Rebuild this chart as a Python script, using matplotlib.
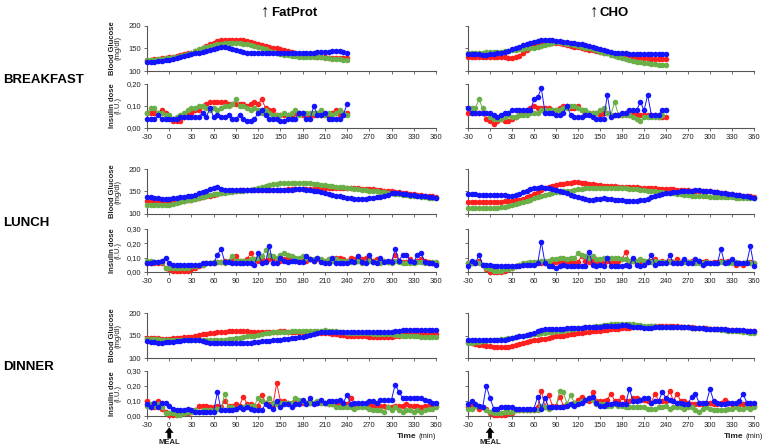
import matplotlib.pyplot as plt

plt.rcParams['font.family'] = ['Liberation Sans', 'DejaVu Sans']

# sampling times (min), one reading every 5 min
t_breakfast = list(range(-30, 245, 5))
t_day = list(range(-30, 365, 5))

# ---------------- BREAKFAST ----------------
# glucose in mg/dl, insulin in 0.01 I.U.
bf_fp_glu_red = [125,125,126,127,128,129,130,131,133,135, 137,139,141,144,147,151,155,159,163,166,
                 168,168,168,169,169,168,168,167,165,163, 160,158,156,154,152,150,148,146,144,142,
                 140,138,136,135,134,133,132,131,130,129, 129,128,128,128,128]
bf_fp_glu_green = [125,125,125,126,127,128,129,130,132,134, 136,138,141,144,148,151,154,156,158,160,
                   161,162,162,162,162,162,161,160,158,156, 154,151,148,145,142,140,138,136,135,134,
                   133,132,131,131,130,130,130,130,129,128, 127,126,126,125,125]
bf_fp_glu_blue = [120,120,121,122,123,124,125,127,129,131, 133,135,137,139,141,143,145,147,149,151,
                  153,154,152,149,146,144,142,140,140,140, 140,140,139,139,139,139,139,139,139,140,
                  140,140,140,141,141,141,142,142,143,143, 144,145,144,142,140]
bf_fp_ins_red = [7,7,7,7,8,7,5,3,3,3, 5,6,7,8,8,10,11,12,12,12, 12,12,11,11,11,11,11,10,11,12,
                 11,13,9,8,8,6,6,6,6,6, 7,7,6,6,6,6,7,6,6,6, 7,8,6,6,7]
bf_fp_ins_green = [7,9,9,7,7,6,6,4,5,6, 7,8,9,9,10,10,9,8,9,8, 9,10,10,11,13,10,10,9,8,9,
                   8,7,8,7,6,6,6,7,6,7, 8,6,7,7,7,7,7,8,6,7, 6,7,8,7,6]
bf_fp_ins_blue = [4,4,4,6,4,4,4,4,4,5, 5,5,5,5,5,7,5,9,5,6, 5,5,6,4,4,6,4,3,3,4,
                  7,8,6,4,4,4,3,3,4,4, 4,7,7,4,4,10,6,6,7,4, 4,4,4,6,11]

bf_cho_glu_red = [131,131,132,132,132,132,132,132,131,131, 130,129,129,130,134,140,147,153,157,160,
                  162,163,163,163,163,162,160,158,156,154, 153,151,149,147,146,144,143,141,139,138,
                  136,135,134,133,132,131,130,129,128,128, 127,127,127,127,127]
bf_cho_glu_green = [140,140,141,141,141,142,142,142,143,143, 144,145,146,147,148,149,150,151,152,154,
                    156,158,161,163,164,164,163,161,159,157, 155,153,152,150,148,146,143,141,139,136,
                    134,131,128,126,124,122,120,119,118,117, 116,115,114,113,113]
bf_cho_glu_blue = [138,138,137,137,136,136,137,138,139,140, 142,145,148,151,154,157,160,163,165,167,
                   168,169,169,168,167,166,165,164,163,162, 160,159,157,155,153,150,148,146,144,142,
                   141,140,139,139,138,138,138,137,137,137, 137,137,137,137,137]
bf_cho_ins_red = [7,7,7,7,7,4,3,2,3,4, 3,3,4,5,6,7,8,9,10,9, 9,9,9,8,8,9,10,10,9,9,
                  10,8,7,7,7,7,6,7,7,6, 6,6,6,7,6,7,6,6,6,6, 6,6,5,5,5]
bf_cho_ins_green = [9,9,9,13,9,7,5,4,4,4, 5,6,5,5,6,6,6,7,7,7, 8,8,8,8,8,8,9,9,10,10,
                    9,8,8,7,7,7,8,9,7,6, 12,6,6,6,6,5,4,3,5,5, 5,5,5,6,8]
bf_cho_ins_blue = [9,7,7,7,7,7,7,6,5,6, 7,7,8,8,8,8,8,8,13,14, 18,7,7,7,6,6,7,10,6,5,
                   5,5,6,6,5,4,4,4,15,5, 6,6,7,7,8,8,8,12,8,15, 6,6,6,8,8]

# ---------------- LUNCH ----------------
lu_fp_glu_red = [129,129,128,128,128,128,128,128,128,128, 129,130,131,133,135,137,139,141,143,145,
                 147,149,150,151,152,153,153,153,153,153, 153,153,153,154,154,154,154,154,155,155,
                 155,155,155,156,156,156,156,157,157,157, 157,157,158,158,158,158,157,157,156,156,
                 155,155,154,153,152,151,150,149,148,147, 146,145,144,143,142,141,140,139,138]
lu_fp_glu_green = [119,119,119,119,120,120,121,122,124,126, 128,130,132,134,136,138,140,142,144,145,
                   146,147,148,149,150,151,152,153,154,155, 157,160,162,164,166,167,168,168,169,169,
                   169,169,169,169,168,167,166,165,164,163, 162,161,160,159,158,157,156,155,154,153,
                   152,151,150,149,148,147,146,145,144,143, 142,141,140,139,138,137,136,135,135]
lu_fp_glu_blue = [137,137,136,135,134,134,134,135,136,137, 138,139,140,143,146,149,152,155,158,160,
                  156,154,154,154,154,154,154,153,153,154, 154,154,154,153,153,153,153,153,154,154,
                  155,155,155,154,153,152,150,149,147,145, 143,141,139,137,136,135,134,134,134,134,
                  135,136,137,138,140,143,146,146,146,145, 144,143,142,141,140,139,138,137,136]
lu_fp_ins_red = [6,6,6,6,6,3,2,1,1,1, 1,1,2,3,4,5,6,6,6,7, 7,8,8,8,11,8,8,9,13,9,
                 8,9,8,9,10,9,8,9,10,9, 8,9,9,8,9,8,9,8,8,9, 9,10,10,9,8,10,9,8,9,10,
                 9,8,9,8,8,7,8,12,8,7, 7,9,7,8,9,8,7,6,6]
lu_fp_ins_green = [8,8,7,7,7,3,3,3,3,3, 3,3,4,4,5,5,6,6,7,7, 7,6,8,11,8,8,8,8,9,9,
                   10,11,15,12,11,10,12,13,12,11, 10,10,11,10,9,9,10,9,8,9, 8,9,8,8,8,7,7,8,6,7,
                   8,7,7,6,8,7,6,8,7,6, 6,6,6,7,7,6,6,7,7]
lu_fp_ins_blue = [6,6,7,7,8,10,6,5,5,5, 5,5,5,5,5,6,6,6,6,12, 16,7,7,6,6,6,6,6,6,5,
                  13,6,7,18,6,6,10,8,7,8, 8,7,7,11,9,8,10,7,6,6, 10,6,6,6,6,8,7,11,7,6,
                  12,7,6,10,7,8,7,16,8,12, 12,8,7,12,13,7,6,6,5]

lu_cho_glu_red = [126,126,126,126,126,126,126,126,127,127, 128,128,129,130,132,134,137,141,145,149,
                  153,157,160,162,164,166,167,168,169,170, 170,169,168,167,166,165,164,163,163,162,
                  162,161,161,160,160,159,159,158,158,158, 157,157,156,156,155,155,155,154,154,153,
                  153,152,152,151,151,150,150,149,148,147, 146,145,144,143,142,141,140,139,138]
lu_cho_glu_green = [113,113,113,113,113,113,114,114,114,115, 116,118,120,122,124,126,129,132,135,138,
                    141,143,145,147,148,149,150,151,152,154, 155,156,157,157,158,158,158,158,158,158,
                    158,158,158,157,156,156,155,154,153,152, 151,150,149,148,147,146,146,145,144,143,
                    142,141,140,140,139,139,138,138,138,137, 137,137,137,136,136,136,135,135,135]
lu_cho_glu_blue = [144,144,144,143,143,143,143,142,142,142, 142,141,141,142,145,149,152,155,157,158,
                   159,158,157,155,153,151,149,146,143,140, 137,135,133,132,132,133,134,135,134,133,
                   132,131,130,129,129,129,129,130,131,134, 138,141,143,145,146,147,148,149,150,151,
                   152,152,153,153,152,151,150,149,148,147, 146,145,144,143,142,140,139,137,136]
lu_cho_ins_red = [6,6,6,8,5,2,0,0,0,0, 1,2,3,4,5,5,6,6,6,7, 6,7,7,7,7,8,8,7,7,6,
                  7,11,8,7,8,7,8,6,8,7, 7,8,9,14,7,8,7,8,8,7, 8,9,7,8,7,8,7,9,7,8,
                  7,8,7,8,7,8,6,7,7,8, 7,8,8,5,6,5,7,7,6]
lu_cho_ins_green = [6,6,7,6,5,3,2,1,1,1, 2,2,3,4,5,6,6,7,7,7, 8,8,8,9,9,10,10,9,10,10,
                    13,12,11,10,11,9,9,10,10,10, 10,10,9,9,8,8,8,9,8,8, 7,8,7,7,7,7,7,6,7,7,
                    7,7,6,6,6,7,6,6,6,7, 7,6,6,7,6,6,7,6,6]
lu_cho_ins_blue = [4,8,6,12,5,5,5,4,4,4, 4,4,4,4,4,5,5,5,5,6, 21,6,4,4,3,4,5,4,4,4,
                   4,4,4,14,5,4,5,4,10,4, 4,4,4,5,4,10,5,4,5,7, 12,5,6,6,6,12,6,6,6,9,
                   6,6,9,8,5,6,6,6,6,16, 6,7,9,6,6,6,6,18,4]

# ---------------- DINNER ----------------
di_fp_glu_red = [145,145,144,144,143,143,143,144,145,145, 146,146,147,149,151,153,154,155,156,157,
                 158,158,159,160,160,160,159,159,158,158, 158,158,158,158,158,158,159,159,158,158,
                 158,158,157,157,157,157,156,156,155,155, 154,153,152,151,150,150,149,149,148,148,
                 147,147,146,146,146,146,146,148,150,152, 153,153,153,153,153,153,153,153,153]
di_fp_glu_green = [143,143,142,142,141,141,140,140,140,140, 140,140,140,140,140,140,140,140,140,140,
                   140,141,142,143,144,145,146,148,149,150, 151,153,155,156,157,158,158,158,158,159,
                   159,159,159,159,160,160,161,161,162,161, 160,159,158,157,156,156,155,155,155,155,
                   155,154,154,153,153,153,153,152,151,150, 150,149,148,148,147,147,146,146,146]
di_fp_glu_blue = [137,136,135,134,134,135,135,136,137,138, 139,140,141,140,139,138,136,134,133,133,
                  133,133,133,133,133,133,133,133,134,135, 136,137,137,138,139,140,141,142,143,144,
                  145,146,147,149,151,153,155,157,158,158, 158,158,158,158,158,158,158,158,158,158,
                  158,158,158,157,157,157,157,159,161,163, 163,163,163,163,163,163,163,163,162]
di_fp_ins_red = [10,6,6,10,5,3,1,1,1,2, 2,2,3,4,7,7,7,6,6,7, 6,10,7,7,8,7,13,8,8,7,
                 7,14,9,8,7,22,10,10,9,9, 10,9,9,9,9,9,9,9,9,8, 8,8,8,8,8,12,8,8,8,8,
                 8,7,7,7,7,6,6,7,7,7, 8,7,7,7,6,7,7,6,7]
di_fp_ins_green = [7,8,7,8,6,2,2,2,1,1, 2,3,3,4,3,4,4,4,4,5, 5,15,6,6,5,6,6,7,7,7,
                   12,10,9,12,9,8,9,9,9,9, 12,11,10,9,9,9,10,9,9,8, 8,6,6,6,6,6,5,6,6,6,
                   5,4,4,4,3,6,4,6,4,3, 4,4,3,4,3,4,5,5,6]
di_fp_ins_blue = [8,6,9,6,9,9,7,5,4,4, 4,5,4,3,3,3,3,3,3,16, 4,4,4,4,5,6,5,6,5,4,
                  4,4,8,7,5,10,6,8,8,6, 8,8,11,8,12,8,9,11,9,10, 10,10,11,9,14,8,9,9,9,9,
                  10,10,9,11,11,11,11,21,16,12, 12,12,12,12,12,11,10,9,9]

di_cho_glu_red = [136,134,132,130,128,127,126,125,124,124, 124,125,126,128,131,133,135,137,139,140,
                  142,143,145,146,148,149,150,152,153,154, 155,156,157,158,159,160,161,162,163,164,
                  165,165,166,167,167,168,168,169,170,170, 171,171,172,172,172,172,171,171,170,169,
                  168,168,167,167,166,166,165,165,164,164, 163,163,162,162,161,161,160,160,159]
di_cho_glu_green = [133,134,135,136,137,138,139,140,141,142, 143,144,145,146,148,150,151,152,153,154,
                    155,156,157,158,159,160,161,163,164,165, 166,167,168,169,170,171,172,173,174,175,
                    175,176,176,176,176,175,174,173,172,172, 171,171,170,170,170,169,169,169,168,168,
                    168,167,167,166,166,165,165,164,164,163, 162,161,160,160,159,158,157,156,156]
di_cho_glu_blue = [139,139,139,139,139,139,139,139,140,140, 141,142,144,146,148,150,152,154,156,160,
                   163,165,164,164,164,165,165,166,166,166, 167,167,168,168,169,170,170,171,171,172,
                   172,172,173,173,171,170,169,168,167,167, 167,168,169,170,170,170,169,169,168,168,
                   168,167,167,166,166,165,165,165,164,164, 164,163,163,163,162,162,161,161,161]
di_cho_ins_red = [6,8,7,5,6,5,2,1,1,1, 1,2,2,4,4,4,4,4,4,6, 17,6,14,7,7,13,7,8,8,9,
                  11,13,11,10,16,10,10,10,11,15, 10,10,13,10,10,12,12,11,11,10, 9,15,10,10,10,17,10,15,10,10,
                  9,8,8,8,8,9,9,8,8,9, 11,9,8,8,8,8,8,7,7]
di_cho_ins_green = [5,5,7,7,6,4,3,2,2,2, 3,3,3,4,4,4,4,4,4,4, 7,6,5,6,6,17,16,8,14,9,
                    9,10,11,12,11,8,8,8,7,7, 8,7,7,6,6,6,6,6,6,5, 5,5,6,6,7,5,6,6,6,5,
                    6,6,4,3,5,6,5,4,4,4, 4,5,5,6,5,5,6,5,6]
di_cho_ins_blue = [8,10,8,7,6,20,12,5,5,6, 6,6,6,5,5,5,5,5,5,13, 5,12,6,6,6,6,6,7,8,7,
                   8,9,11,12,13,9,7,7,8,8, 9,8,8,8,18,10,10,11,12,12, 9,10,10,16,12,11,10,9,9,8,
                   8,13,15,9,9,9,18,10,9,8, 8,9,9,9,10,15,9,9,9]

meals = ['BREAKFAST', 'LUNCH', 'DINNER']
diets = ['FatProt', 'CHO']
x_ticks = list(range(-30, 361, 30))
glu_ticks = [100, 150, 200]
ins_ticks_bf = [0, 0.1, 0.2]
ins_labels_bf = ['0,00', '0,10', '0,20']
ins_ticks = [0, 0.1, 0.2, 0.3]
ins_labels = ['0,00', '0,10', '0,20', '0,30']

colors = ['#FF1F1F', '#6AAF48', '#1414FF']

# (meal row, diet col, time, glucose series, insulin series)
panels = [
    (0, 0, t_breakfast, [bf_fp_glu_red, bf_fp_glu_green, bf_fp_glu_blue], [bf_fp_ins_red, bf_fp_ins_green, bf_fp_ins_blue]),
    (0, 1, t_breakfast, [bf_cho_glu_red, bf_cho_glu_green, bf_cho_glu_blue], [bf_cho_ins_red, bf_cho_ins_green, bf_cho_ins_blue]),
    (1, 0, t_day, [lu_fp_glu_red, lu_fp_glu_green, lu_fp_glu_blue], [lu_fp_ins_red, lu_fp_ins_green, lu_fp_ins_blue]),
    (1, 1, t_day, [lu_cho_glu_red, lu_cho_glu_green, lu_cho_glu_blue], [lu_cho_ins_red, lu_cho_ins_green, lu_cho_ins_blue]),
    (2, 0, t_day, [di_fp_glu_red, di_fp_glu_green, di_fp_glu_blue], [di_fp_ins_red, di_fp_ins_green, di_fp_ins_blue]),
    (2, 1, t_day, [di_cho_glu_red, di_cho_glu_green, di_cho_glu_blue], [di_cho_ins_red, di_cho_ins_green, di_cho_ins_blue]),
]

W, H = 764, 448
fig = plt.figure(figsize=(W / 100, H / 100), dpi=100)

col_x = [(147, 289), (468, 286)]
glu_rows = [(26, 71), (169, 214), (313, 358)]
ins_rows = [(84, 128), (229, 272), (371, 416)]
txt_col = '#222222'


def make_ax(col, top, bot):
    x0, w = col_x[col]
    ax = fig.add_axes([x0 / W, 1 - bot / H, w / W, (bot - top) / H])
    for s in ['top', 'right']:
        ax.spines[s].set_visible(False)
    for s in ['left', 'bottom']:
        ax.spines[s].set_color('#555555')
        ax.spines[s].set_linewidth(0.8)
    ax.tick_params(length=2.5, width=0.6, color='#555555', labelsize=5.5,
                   labelcolor=txt_col, pad=1.5)
    ax.set_xlim(-30, 360)
    ax.set_xticks(x_ticks)
    return ax


def draw_series(ax, t, series, scale=1.0):
    for vals, c in zip(series, colors):
        if len(vals) != len(t):
            raise ValueError('length mismatch %d vs %d' % (len(vals), len(t)))
        ax.plot(t, [v * scale for v in vals], '-o', color=c, lw=0.7, ms=4.0,
                mew=0, clip_on=False, zorder=3)


for row, col, t, glu, ins in panels:
    # glucose
    axg = make_ax(col, *glu_rows[row])
    draw_series(axg, t, glu)
    axg.set_ylim(100, 200)
    axg.set_yticks(glu_ticks)
    axg.set_xticklabels([])
    if col == 0:
        axg.set_yticklabels([str(v) for v in glu_ticks])
        axg.text(-0.121, 0.5, 'Blood Glucose', transform=axg.transAxes, rotation=90,
                 ha='center', va='center', fontsize=5.5, weight='bold', color=txt_col)
        axg.text(-0.100, 0.5, '(mg/dl)', transform=axg.transAxes, rotation=90,
                 ha='center', va='center', fontsize=5.5, color=txt_col)
    else:
        axg.set_yticklabels([])

    # insulin
    axi = make_ax(col, *ins_rows[row])
    draw_series(axi, t, ins, scale=0.01)
    if row == 0:
        axi.set_ylim(0, 0.2)
        axi.set_yticks(ins_ticks_bf)
        labels = ins_labels_bf
    else:
        axi.set_ylim(0, 0.3)
        axi.set_yticks(ins_ticks)
        labels = ins_labels
    axi.set_xticklabels([str(v) for v in x_ticks])
    if col == 0:
        axi.set_yticklabels(labels)
        axi.text(-0.121, 0.5, 'Insulin dose', transform=axi.transAxes, rotation=90,
                 ha='center', va='center', fontsize=5.5, weight='bold', color=txt_col)
        axi.text(-0.100, 0.5, '(I.U.)', transform=axi.transAxes, rotation=90,
                 ha='center', va='center', fontsize=5.5, color=txt_col)
    else:
        axi.set_yticklabels([])

    if row == 2:
        tr = axi.get_xaxis_transform()
        axi.annotate('', xy=(0, -0.25), xytext=(0, -0.50), xycoords=tr, textcoords=tr,
                     annotation_clip=False,
                     arrowprops=dict(arrowstyle='simple,head_length=0.45,head_width=0.7,tail_width=0.3',
                                     mutation_scale=9, shrinkA=0, shrinkB=0,
                                     fc='black', ec='black', lw=0))
        axi.text(0, -0.59, 'MEAL', transform=tr, ha='center', va='center',
                 fontsize=5.5, weight='bold', color=txt_col)

# row labels
for name, y in zip(meals, [80, 223, 367]):
    fig.text(3 / W, 1 - y / H, name, fontsize=9.5, weight='bold', va='center', ha='left')

# column titles
for name, xa, xt in zip(diets, [265, 594], [271, 600]):
    fig.text(xa / W, 1 - 12 / H, '\u2191', fontsize=12, ha='center', va='center')
    fig.text(xt / W, 1 - 13 / H, name, fontsize=9.5, weight='bold', ha='left', va='center')

# time axis captions
for x_end, x_time in [(436, 416), (763, 743)]:
    fig.text(x_end / W, 1 - 436 / H, '(min)', fontsize=5.5, ha='right', va='center', color=txt_col)
    fig.text(x_time / W, 1 - 436 / H, 'Time', fontsize=6, weight='bold', ha='right', va='center', color=txt_col)

fig.savefig('out.png', dpi=100)
